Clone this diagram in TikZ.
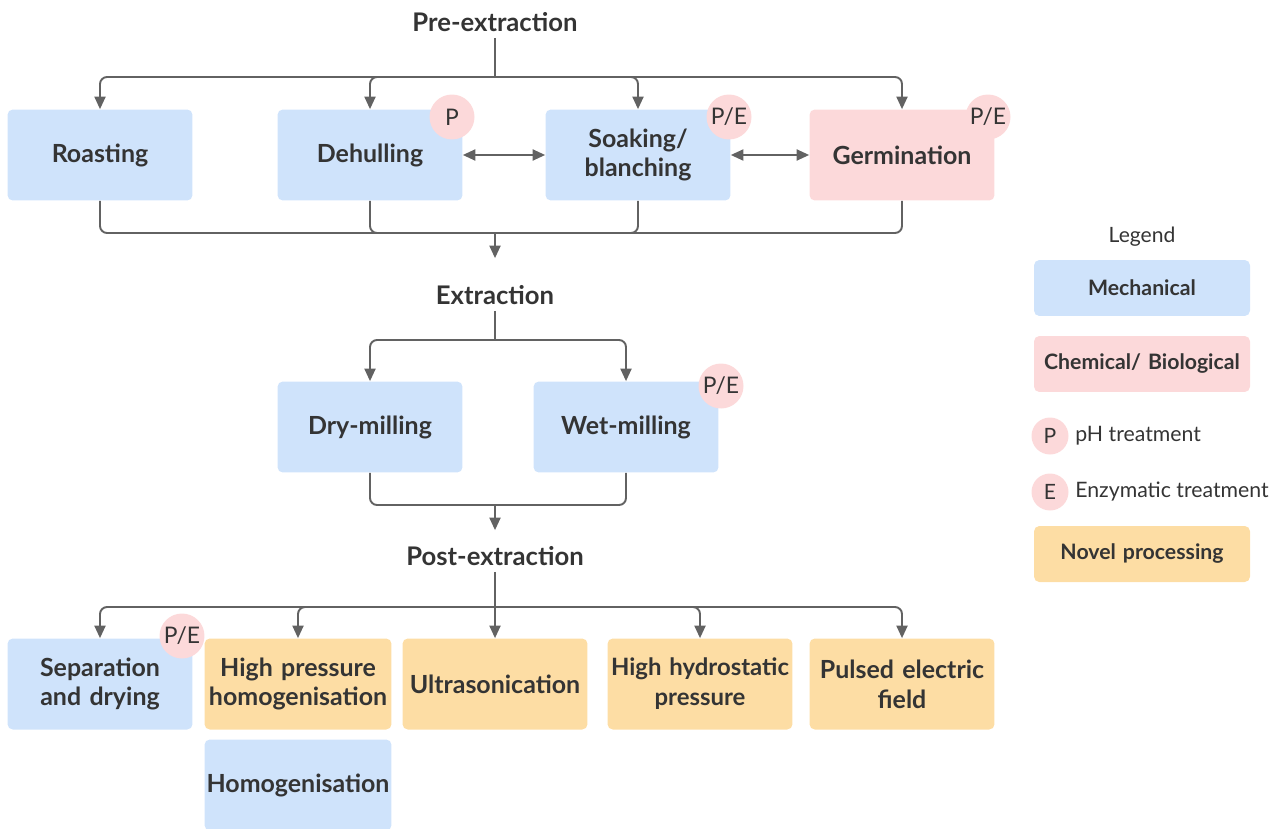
\documentclass[tikz,border=0pt]{standalone}
\usepackage{fontspec}
\setmainfont{Lato}
\usepackage{xcolor}
\usepackage{tikz}
\usetikzlibrary{positioning, arrows.meta}
\definecolor{MechBlue}{RGB}{207,227,251}
\definecolor{ChemPink}{RGB}{252,217,218}
\definecolor{NovelOrange}{RGB}{253,221,164}
\definecolor{LineGrey}{RGB}{98,98,98}
\definecolor{TextGrey}{RGB}{52,52,52}

\begin{document}
\begin{tikzpicture}[x=0.02cm,y=-0.02cm]
      \tikzset{box/.style={rounded corners=3pt, minimum width=3.7cm, minimum height=1.82cm, inner xsep=0pt,
        text width=3.68cm, align=center, text=TextGrey, font=\bfseries\fontsize{14.2}{17}\selectfont},
        mech/.style={box, fill=MechBlue}, chem/.style={box, fill=ChemPink}, novel/.style={box, fill=NovelOrange},
        legbox/.style={box, minimum width=4.32cm, text width=4.3cm, minimum height=1.12cm, font=\bfseries\fontsize{12.1}{14}\selectfont},
        badge/.style={circle, fill=ChemPink, minimum size=0.9cm, inner sep=0pt, text=TextGrey,
        font=\fontsize{13}{14}\selectfont},
        stage/.style={text=TextGrey, font=\bfseries\fontsize{14.6}{17}\selectfont},
        ln/.style={draw=LineGrey, line width=1.1pt, rounded corners=4pt},
        arr/.style={ln, -{Triangle[length=0.25cm, width=0.22cm]}},
        dblarr/.style={ln, {Triangle[length=0.25cm, width=0.22cm]}-{Triangle[length=0.25cm, width=0.22cm]}}}
      \useasboundingbox (0,0) rectangle (1280,828);

      \node[stage] (pre) at (495,22) {Pre-extraction};
      \node[mech] (roast) at (100,155) {Roasting};
      \node[mech] (dehull) at (370,155) {Dehulling};
      \node[mech] (soak) at (638,155) {Soaking/\\blanching};
      \node[chem] (germ) at (902,155) {Germination};
      \node[badge] (bdehull) at (452,117) {P};
      \node[badge] (bsoak) at (729,117) {P/E};
      \node[badge] (bgerm) at (988,117) {P/E};

      \node[stage] (extr) at (495,295) {Extraction};
      \node[mech] (dry) at (370,427) {Dry-milling};
      \node[mech] (wet) at (626,427) {Wet-milling};
      \node[badge] (bwet) at (721,386) {P/E};

      \node[stage] (post) at (495,556) {Post-extraction};
      \node[mech] (sep) at (100,684) {Separation\\and drying};
      \node[novel, minimum width=3.74cm] (hph) at (298,684) {High pressure\\homogenisation};
      \node[novel] (ultra) at (495,684) {Ultrasonication};
      \node[novel, font=\bfseries\fontsize{13.6}{17}\selectfont] (hhp) at (700,684) {High hydrostatic\\pressure};
      \node[novel] (pef) at (902,684) {Pulsed electric\\field};
      \node[mech, minimum width=3.74cm] (homog) at (298,785) {Homogenisation};
      \node[badge] (bsep) at (182,636) {P/E};

      \coordinate (split1) at (495,77);
      \coordinate (join1) at (495,233);
      \coordinate (split2) at (495,340);
      \coordinate (join2) at (495,505);
      \coordinate (split3) at (495,607);

      \draw[ln] (pre) -- (split1);
      \foreach \n in {roast,dehull,soak,germ}
        \draw[arr] (split1) -| (\n.north);
      \draw[dblarr] (dehull) -- (soak);
      \draw[dblarr] (soak) -- (germ);
      \foreach \n in {roast,dehull,soak,germ}
        \draw[ln] (\n.south) |- (join1);
      \draw[arr, shorten >=0.42cm] (join1) -- (extr.north);

      \draw[ln] (extr) -- (split2);
      \foreach \n in {dry,wet}
        \draw[arr] (split2) -| (\n.north);
      \foreach \n in {dry,wet}
        \draw[ln] (\n.south) |- (join2);
      \draw[arr, shorten >=0.2cm] (join2) -- (post.north);

      \draw[ln] (post) -- (split3);
      \foreach \n in {sep,hph,hhp,pef}
        \draw[arr] (split3) -| (\n.north);
      \draw[arr] (split3) -- (ultra.north);

      \node[text=TextGrey, font=\fontsize{12}{14}\selectfont] (legend) at (1142,237) {Legend};
      \node[legbox, fill=MechBlue] (lmech) at (1142,288) {Mechanical};
      \node[legbox, fill=ChemPink] (lchem) at (1142,364) {Chemical/ Biological};
      \node[badge, minimum size=0.74cm, font=\fontsize{12}{14}\selectfont] (lp) at (1050,436) {P};
      \node[anchor=west, text=TextGrey, font=\fontsize{12.1}{14}\selectfont, inner sep=0pt] (lptext) at (1075,436) {pH treatment};
      \node[badge, minimum size=0.74cm, font=\fontsize{12}{14}\selectfont] (le) at (1050,492) {E};
      \node[anchor=west, text=TextGrey, font=\fontsize{12.1}{14}\selectfont, inner sep=0pt] (letext) at (1075,492) {Enzymatic treatment};
      \node[legbox, fill=NovelOrange] (lnovel) at (1142,554) {Novel processing};
    \end{tikzpicture}
\end{document}
